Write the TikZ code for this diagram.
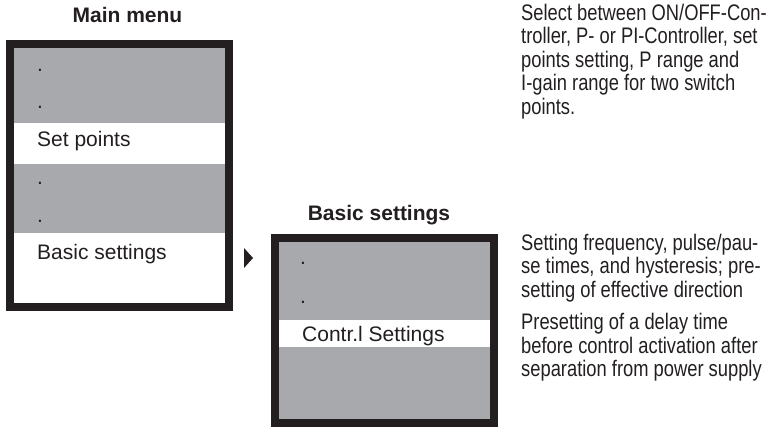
\documentclass[tikz,border=0pt]{standalone}
\usepackage{fontspec}
\setmainfont{Liberation Sans}
\newfontfamily\narrowfont[FakeStretch=0.815]{Liberation Sans}
\definecolor{ink}{HTML}{231F20}
\definecolor{band}{HTML}{A7A9AC}
\begin{document}
\begin{tikzpicture}[x=1pt,y=-1pt,
  lbl/.style={anchor=base west,inner sep=0pt,text=ink,font=\fontsize{21}{23}\selectfont},
  ttl/.style={anchor=base,inner sep=0pt,text=ink,font=\fontsize{21}{23}\selectfont\bfseries},
  desc/.style={anchor=base west,inner sep=0pt,text=ink,font=\narrowfont\fontsize{22.5}{23}\selectfont},
  frame/.style={draw=ink,line width=8pt}]
\useasboundingbox (0,0) rectangle (778,427);
% main menu
\node[ttl] (tmain) at (127.5,23) {Main menu};
\fill[band] (14,48) rectangle (225,123);
\fill[white] (14,123) rectangle (225,164);
\fill[band] (14,164) rectangle (225,233);
\fill[white] (14,233) rectangle (225,303);
\draw[frame] (10,44) rectangle (229,307);
\node[lbl] (m1) at (37,72) {.};
\node[lbl] (m2) at (37,108.5) {.};
\node[lbl] (m3) at (37,147) {Set points};
\node[lbl] (m4) at (37,184.5) {.};
\node[lbl] (m5) at (37,222.5) {.};
\node[lbl] (m6) at (37,260) {Basic settings};
% arrow
\fill[ink] (244,248) -- (253,258) -- (244,268) -- cycle;
% basic settings
\node[ttl] (tbasic) at (379,221) {Basic settings};
\fill[band] (279,242) rectangle (490,320);
\fill[white] (279,320) rectangle (490,347);
\fill[band] (279,347) rectangle (490,419);
\draw[frame] (275,238) rectangle (494,423);
\node[lbl] (b1) at (300,264.5) {.};
\node[lbl] (b2) at (300,303.5) {.};
\node[lbl] (b3) at (302,341.5) {Contr.l Settings};
% descriptions
\node[desc] (d1) at (521,20.5) {Select between ON/OFF-Con-};
\node[desc] (d2) at (521,44) {troller, P- or PI-Controller, set};
\node[desc] (d3) at (521,67.5) {points setting, P range and};
\node[desc] (d4) at (521,91) {I-gain range for two switch};
\node[desc] (d5) at (521,114.5) {points.};
\node[desc] (e1) at (521,250.5) {Setting frequency, pulse/pau-};
\node[desc] (e2) at (521,274) {se times, and hysteresis; pre-};
\node[desc] (e3) at (521,297.5) {setting of effective direction};
\node[desc] (e4) at (521,329.5) {Presetting of a delay time};
\node[desc] (e5) at (521,353) {before control activation after};
\node[desc] (e6) at (521,376.5) {separation from power supply};
\end{tikzpicture}
\end{document}
